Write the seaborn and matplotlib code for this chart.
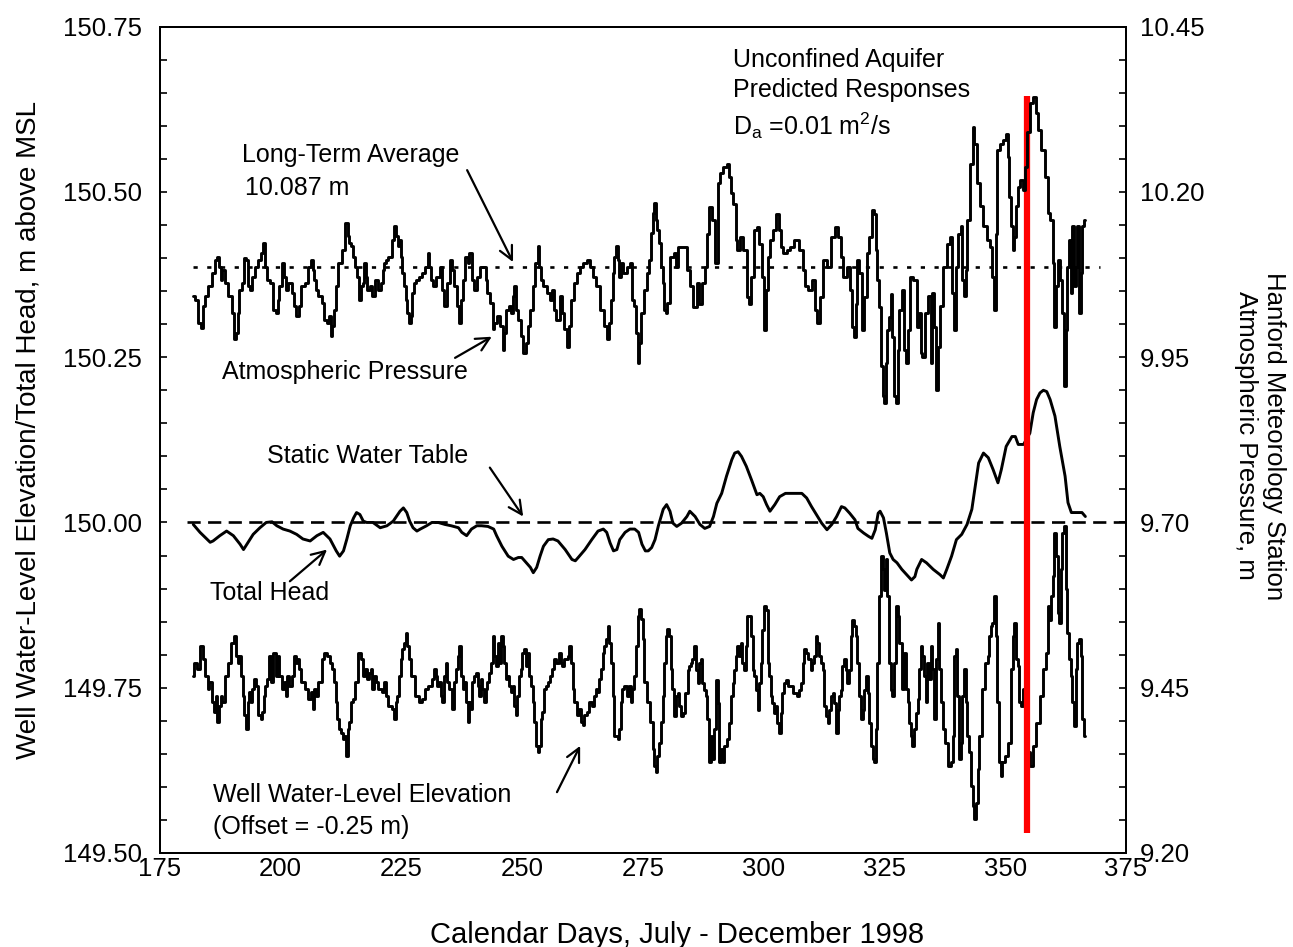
import matplotlib
matplotlib.use("Agg")
import matplotlib.pyplot as plt
from matplotlib.ticker import MultipleLocator, FormatStrFormatter
import pandas as pd
import seaborn as sns

# Hanford atmospheric pressure (right axis, m of water) : (calendar day, value)
ATM_PRESSURE = [
    (181.9, 10.042), (182.6, 10.037), (183.3, 10.002), (183.7, 9.994), (184.0, 10.027), (184.7, 10.042),
    (185.4, 10.057), (186.0, 10.077), (186.7, 10.097), (187.1, 10.102), (187.4, 10.087), (187.8, 10.067),
    (188.1, 10.082), (188.8, 10.062), (189.5, 10.042), (190.2, 10.017), (190.6, 9.977), (190.9, 9.987),
    (191.3, 10.017), (191.6, 10.052), (192.3, 10.062), (192.6, 10.100), (193.0, 10.097), (193.3, 10.057),
    (194.0, 10.052), (194.3, 10.072), (195.0, 10.087), (195.7, 10.097), (196.0, 10.107), (196.7, 10.123),
    (197.0, 10.087), (197.4, 10.067), (198.2, 10.062), (198.8, 10.022), (199.2, 10.017), (199.5, 10.037),
    (199.9, 10.057), (200.6, 10.092), (200.9, 10.072), (201.2, 10.052), (201.9, 10.062), (202.6, 10.047),
    (202.9, 10.027), (203.6, 10.012), (204.0, 10.027), (204.6, 10.057), (205.4, 10.062), (206.1, 10.087),
    (206.4, 10.097), (206.8, 10.082), (207.1, 10.067), (207.5, 10.052), (208.1, 10.042), (208.8, 10.032),
    (209.2, 10.007), (209.8, 10.002), (210.2, 10.012), (210.5, 9.982), (210.9, 9.997), (211.2, 10.022),
    (211.6, 10.057), (212.2, 10.092), (213.0, 10.112), (213.7, 10.153), (214.0, 10.133), (214.4, 10.123),
    (214.7, 10.118), (215.1, 10.102), (215.7, 10.087), (216.1, 10.072), (216.4, 10.037), (216.8, 10.057),
    (217.1, 10.062), (217.4, 10.092), (217.8, 10.072), (218.1, 10.052), (218.8, 10.057), (219.1, 10.042),
    (219.8, 10.067), (220.6, 10.052), (220.9, 10.062), (221.3, 10.082), (221.6, 10.092), (222.0, 10.097),
    (222.6, 10.102), (223.3, 10.128), (223.7, 10.148), (224.0, 10.133), (224.4, 10.118), (224.7, 10.128),
    (225.0, 10.102), (225.4, 10.077), (225.7, 10.057), (226.1, 10.037), (226.4, 10.017), (226.7, 10.002),
    (227.1, 10.012), (227.4, 10.047), (227.8, 10.062), (228.2, 10.067), (228.9, 10.072), (229.6, 10.077),
    (230.2, 10.087), (230.6, 10.107), (230.9, 10.087), (231.3, 10.067), (231.9, 10.057), (232.6, 10.072),
    (233.3, 10.087), (233.6, 10.052), (234.0, 10.027), (234.7, 10.062), (235.3, 10.097), (235.8, 10.082),
    (236.1, 10.057), (236.8, 10.027), (237.2, 10.002), (237.5, 10.037), (237.8, 10.067), (238.5, 10.102),
    (238.9, 10.092), (239.2, 10.107), (239.9, 10.067), (240.2, 10.052), (240.9, 10.072), (241.6, 10.087),
    (242.3, 10.087), (242.6, 10.067), (242.9, 10.047), (243.7, 10.032), (244.1, 9.992), (244.4, 10.002),
    (245.1, 10.012), (245.8, 9.997), (246.1, 9.961), (246.4, 9.987), (247.1, 10.022), (247.5, 10.027),
    (247.8, 10.017), (248.2, 10.042), (248.5, 10.057), (248.8, 10.022), (249.5, 10.007), (249.9, 9.982),
    (250.5, 9.956), (250.9, 9.971), (251.3, 9.997), (252.0, 10.022), (252.3, 10.057), (253.0, 10.092),
    (253.4, 10.118), (253.7, 10.087), (254.0, 10.067), (254.7, 10.057), (255.4, 10.047), (256.1, 10.037),
    (256.4, 10.052), (256.8, 10.022), (257.4, 10.007), (258.1, 10.042), (258.5, 10.017), (258.9, 9.992),
    (259.6, 9.966), (259.9, 9.997), (260.3, 10.037), (261.0, 10.062), (261.6, 10.077), (262.3, 10.087),
    (263.0, 10.092), (263.7, 10.097), (264.4, 10.087), (265.0, 10.072), (265.7, 10.057), (266.5, 10.022),
    (267.2, 9.997), (267.9, 9.977), (268.2, 10.002), (268.5, 10.037), (268.9, 10.077), (269.2, 10.102),
    (269.6, 10.118), (269.9, 10.097), (270.2, 10.072), (270.6, 10.092), (271.3, 10.077), (272.0, 10.087),
    (272.6, 10.092), (273.0, 10.037), (273.3, 10.027), (273.7, 9.987), (274.1, 9.941), (274.4, 9.971),
    (274.8, 10.017), (275.5, 10.052), (276.1, 10.077), (276.5, 10.097), (276.8, 10.138), (277.2, 10.168),
    (277.5, 10.183), (277.8, 10.158), (278.2, 10.143), (278.5, 10.123), (278.9, 10.087), (279.2, 10.062),
    (279.5, 10.022), (279.9, 10.017), (280.2, 10.032), (281.2, 10.102), (281.6, 10.107), (282.0, 10.087),
    (282.7, 10.117), (283.7, 10.117), (284.4, 10.082), (285.1, 10.057), (285.8, 10.026), (286.5, 10.062),
    (286.8, 10.031), (287.5, 10.062), (288.2, 10.087), (288.5, 10.137), (288.8, 10.177), (289.6, 10.157),
    (290.3, 10.092), (290.6, 10.213), (291.3, 10.228), (292.0, 10.238), (292.7, 10.243), (293.0, 10.223),
    (293.4, 10.198), (294.0, 10.182), (294.4, 10.127), (294.7, 10.112), (295.4, 10.132), (296.1, 10.112),
    (296.8, 10.041), (297.2, 10.031), (297.6, 10.072), (298.2, 10.142), (298.9, 10.147), (299.3, 10.122),
    (299.9, 10.072), (300.3, 9.991), (300.6, 10.052), (301.0, 10.102), (301.6, 10.127), (302.3, 10.142),
    (303.0, 10.167), (303.3, 10.142), (303.7, 10.117), (304.4, 10.107), (305.1, 10.112), (305.8, 10.117),
    (306.8, 10.127), (307.9, 10.112), (308.2, 10.082), (308.9, 10.057), (309.6, 10.052), (310.3, 10.067),
    (310.9, 10.021), (311.3, 10.001), (312.0, 10.041), (312.7, 10.097), (313.4, 10.087), (314.4, 10.132),
    (315.1, 10.147), (315.8, 10.132), (316.1, 10.102), (316.8, 10.072), (317.5, 10.087), (318.2, 10.052),
    (318.5, 9.996), (318.9, 9.981), (319.2, 10.031), (319.6, 10.097), (320.0, 10.077), (320.7, 9.991),
    (321.0, 10.041), (321.7, 10.107), (322.0, 10.132), (322.7, 10.172), (323.1, 10.167), (323.4, 10.112),
    (323.7, 10.067), (324.1, 10.026), (324.4, 9.936), (324.8, 9.891), (325.1, 9.881), (325.4, 9.941),
    (325.8, 9.991), (326.1, 10.011), (326.5, 10.046), (326.8, 9.981), (327.1, 9.891), (327.6, 9.881),
    (327.9, 9.961), (328.3, 10.021), (328.9, 10.052), (329.3, 9.961), (329.6, 9.941), (330.0, 9.991),
    (330.6, 10.072), (331.3, 10.067), (332.0, 9.996), (332.3, 10.017), (332.7, 9.956), (333.0, 9.951),
    (333.7, 10.017), (334.4, 10.042), (334.7, 9.941), (335.1, 10.047), (335.5, 9.996), (335.8, 9.901),
    (336.2, 9.966), (336.9, 10.027), (337.5, 10.087), (338.2, 10.122), (338.9, 10.132), (339.2, 10.047),
    (339.6, 9.991), (339.9, 10.087), (340.5, 10.137), (341.0, 10.148), (341.3, 10.067), (341.6, 10.042),
    (342.0, 10.082), (342.3, 10.158), (343.1, 10.243), (343.4, 10.299), (343.8, 10.273), (344.5, 10.213),
    (345.1, 10.178), (345.8, 10.148), (346.5, 10.127), (347.2, 10.117), (347.5, 10.072), (347.9, 10.022),
    (348.2, 10.137), (348.5, 10.263), (349.2, 10.273), (349.9, 10.278), (350.4, 10.288), (350.7, 10.253),
    (351.0, 10.193), (351.4, 10.148), (351.7, 10.112), (352.1, 10.132), (352.4, 10.178), (352.7, 10.208),
    (353.4, 10.218), (353.9, 10.203), (354.3, 10.238), (354.8, 10.290), (355.5, 10.334), (356.1, 10.344),
    (356.5, 10.319), (357.2, 10.293), (357.8, 10.263), (358.6, 10.223), (359.0, 10.168), (359.6, 10.158),
    (360.0, 10.092), (360.3, 9.996), (360.7, 10.057), (361.0, 10.097), (361.7, 10.067), (362.0, 10.017),
    (362.4, 9.906), (362.7, 9.991), (363.0, 10.087), (363.4, 10.127), (363.7, 10.047), (364.1, 10.148),
    (364.4, 10.057), (364.8, 10.087), (365.1, 10.148), (365.4, 10.017), (365.8, 10.077), (366.2, 10.148),
    (366.6, 10.158),
]

# predicted total head (left axis, m above MSL)
TOTAL_HEAD = [
    (181.9, 149.997), (183.3, 149.985), (184.7, 149.975), (185.4, 149.970), (186.0, 149.972), (187.4, 149.980),
    (188.8, 149.987), (190.2, 149.980), (191.6, 149.967), (192.3, 149.959), (193.0, 149.967), (194.3, 149.982),
    (195.7, 149.992), (197.0, 150.000), (198.2, 150.001), (199.2, 149.995), (200.5, 149.990), (201.9, 149.987),
    (203.3, 149.982), (204.6, 149.975), (206.1, 149.972), (207.5, 149.980), (208.8, 149.985), (210.2, 149.975),
    (211.5, 149.957), (212.2, 149.949), (213.0, 149.957), (213.7, 149.975), (214.4, 149.995), (215.1, 150.007),
    (215.7, 150.015), (216.4, 150.012), (217.1, 150.002), (217.8, 150.000), (219.1, 150.000), (220.6, 149.992),
    (222.0, 149.995), (223.3, 150.002), (224.7, 150.017), (225.4, 150.022), (226.1, 150.015), (226.7, 150.002),
    (227.4, 149.992), (228.2, 149.987), (228.9, 149.990), (230.2, 149.995), (231.3, 150.000), (232.6, 150.000),
    (234.0, 149.997), (235.3, 149.995), (236.8, 149.992), (237.5, 149.985), (238.5, 149.980), (239.5, 149.990),
    (240.6, 149.995), (241.6, 149.995), (242.9, 149.994), (244.1, 149.990), (244.7, 149.980), (245.8, 149.964),
    (247.1, 149.949), (248.2, 149.944), (249.2, 149.947), (249.9, 149.947), (250.5, 149.942), (251.7, 149.932),
    (252.3, 149.924), (253.0, 149.932), (253.7, 149.949), (254.4, 149.964), (255.4, 149.974), (256.4, 149.975),
    (257.4, 149.972), (258.9, 149.959), (260.3, 149.944), (261.0, 149.942), (261.6, 149.947), (263.0, 149.959),
    (264.4, 149.974), (265.7, 149.987), (266.8, 149.990), (267.5, 149.985), (268.2, 149.969), (268.9, 149.957),
    (269.6, 149.959), (270.2, 149.974), (271.3, 149.985), (272.3, 149.990), (273.3, 149.990), (274.1, 149.985),
    (274.8, 149.967), (275.5, 149.957), (276.1, 149.957), (276.8, 149.962), (277.5, 149.974), (278.2, 149.995),
    (279.2, 150.020), (279.9, 150.027), (280.6, 150.017), (281.2, 149.999), (282.0, 149.994), (283.0, 149.999),
    (284.1, 150.009), (284.7, 150.017), (285.8, 150.009), (286.8, 149.997), (287.8, 149.991), (288.8, 149.994),
    (289.6, 150.009), (290.3, 150.029), (291.3, 150.044), (292.3, 150.070), (293.4, 150.095), (294.0, 150.105),
    (294.7, 150.107), (295.4, 150.100), (296.4, 150.085), (297.5, 150.064), (298.6, 150.042), (299.2, 150.044),
    (299.9, 150.039), (300.6, 150.027), (301.3, 150.017), (302.3, 150.027), (303.3, 150.039), (304.5, 150.044),
    (305.5, 150.044), (306.8, 150.044), (307.9, 150.044), (308.9, 150.037), (309.9, 150.024), (310.9, 150.012),
    (312.0, 149.999), (313.1, 149.989), (314.1, 149.997), (315.1, 150.009), (316.1, 150.024), (316.8, 150.022),
    (317.8, 150.014), (318.9, 150.004), (319.5, 149.991), (320.7, 149.984), (321.7, 149.979), (322.4, 149.976),
    (323.1, 149.989), (323.7, 150.014), (324.1, 150.017), (324.8, 150.007), (325.4, 149.984), (326.1, 149.954),
    (326.8, 149.944), (327.6, 149.939), (328.6, 149.929), (329.6, 149.921), (330.6, 149.913), (331.3, 149.918),
    (331.7, 149.929), (332.7, 149.944), (333.7, 149.939), (335.1, 149.929), (336.5, 149.921), (337.2, 149.916),
    (337.9, 149.929), (338.9, 149.949), (339.9, 149.974), (341.0, 149.982), (342.1, 149.997), (343.1, 150.020),
    (343.8, 150.055), (344.5, 150.090), (345.5, 150.105), (346.5, 150.098), (347.5, 150.080), (348.5, 150.060),
    (349.2, 150.080), (350.2, 150.115), (351.4, 150.130), (352.1, 150.130), (352.7, 150.118), (353.8, 150.118),
    (355.1, 150.135), (355.8, 150.166), (356.5, 150.186), (357.2, 150.196), (357.9, 150.200), (358.6, 150.198),
    (359.3, 150.186), (360.3, 150.161), (361.3, 150.115), (362.4, 150.070), (363.0, 150.030), (363.7, 150.015),
    (364.9, 150.015), (365.9, 150.015), (366.6, 150.009),
]

# well water-level elevation, already offset by -0.25 m (left axis)
WELL_LEVEL = [
    (181.9, 149.768), (182.3, 149.788), (183.0, 149.778), (183.7, 149.813), (184.0, 149.793), (184.7, 149.768),
    (185.0, 149.748), (185.4, 149.758), (186.0, 149.728), (186.4, 149.713), (186.7, 149.738), (187.1, 149.698),
    (187.4, 149.723), (187.7, 149.738), (188.1, 149.728), (188.8, 149.768), (189.4, 149.788), (190.2, 149.818),
    (190.6, 149.828), (190.9, 149.798), (191.3, 149.788), (191.6, 149.798), (191.9, 149.768), (192.3, 149.738),
    (192.6, 149.708), (193.0, 149.687), (193.3, 149.728), (193.6, 149.743), (194.0, 149.728), (194.3, 149.748),
    (194.7, 149.763), (195.0, 149.753), (195.7, 149.708), (196.0, 149.703), (196.4, 149.713), (196.7, 149.738),
    (197.0, 149.753), (197.4, 149.763), (197.8, 149.798), (198.2, 149.758), (198.8, 149.803), (199.2, 149.768),
    (199.5, 149.798), (199.9, 149.768), (200.5, 149.748), (200.9, 149.758), (201.2, 149.738), (201.6, 149.768),
    (201.9, 149.753), (202.6, 149.768), (202.9, 149.798), (203.3, 149.788), (203.6, 149.793), (203.9, 149.778),
    (204.6, 149.758), (205.4, 149.748), (206.1, 149.733), (206.4, 149.743), (206.8, 149.718), (207.1, 149.748),
    (207.5, 149.738), (208.1, 149.758), (208.8, 149.793), (209.2, 149.803), (209.8, 149.798), (210.5, 149.788),
    (210.9, 149.778), (211.2, 149.758), (211.5, 149.728), (211.9, 149.703), (212.2, 149.687), (212.6, 149.682),
    (213.0, 149.672), (213.4, 149.677), (213.7, 149.647), (214.0, 149.687), (214.4, 149.698), (214.7, 149.728),
    (215.1, 149.733), (215.7, 149.758), (216.4, 149.803), (216.8, 149.793), (217.1, 149.768), (217.8, 149.778),
    (218.1, 149.763), (218.5, 149.773), (218.8, 149.778), (219.1, 149.748), (219.5, 149.768), (219.8, 149.758),
    (220.6, 149.748), (221.3, 149.743), (221.6, 149.758), (222.0, 149.738), (222.6, 149.723), (223.3, 149.718),
    (223.7, 149.703), (224.0, 149.728), (224.3, 149.738), (224.7, 149.768), (225.0, 149.793), (225.4, 149.808),
    (225.7, 149.818), (226.1, 149.833), (226.4, 149.813), (226.7, 149.793), (227.4, 149.768), (228.2, 149.738),
    (228.9, 149.728), (229.6, 149.733), (230.2, 149.748), (230.9, 149.753), (231.6, 149.763), (231.9, 149.778),
    (232.3, 149.768), (232.6, 149.753), (233.0, 149.758), (233.3, 149.738), (233.6, 149.728), (234.0, 149.768),
    (234.3, 149.788), (234.7, 149.758), (235.0, 149.748), (235.8, 149.718), (236.1, 149.758), (236.5, 149.778),
    (236.8, 149.798), (237.2, 149.813), (237.5, 149.768), (237.8, 149.748), (238.2, 149.758), (238.5, 149.728),
    (238.9, 149.698), (239.2, 149.728), (239.5, 149.718), (239.9, 149.758), (240.2, 149.768), (240.6, 149.773),
    (240.9, 149.753), (241.2, 149.738), (241.6, 149.763), (241.9, 149.748), (242.3, 149.728), (242.6, 149.748),
    (242.9, 149.758), (243.3, 149.773), (243.7, 149.788), (244.1, 149.828), (244.4, 149.798), (244.7, 149.783),
    (245.1, 149.818), (245.4, 149.788), (245.8, 149.828), (246.1, 149.813), (246.4, 149.788), (246.8, 149.763),
    (247.1, 149.768), (247.5, 149.753), (247.8, 149.743), (248.2, 149.753), (248.5, 149.723), (248.8, 149.708),
    (249.2, 149.738), (249.5, 149.768), (249.9, 149.778), (250.2, 149.803), (250.5, 149.808), (250.9, 149.783),
    (251.3, 149.803), (251.7, 149.768), (252.0, 149.753), (252.3, 149.728), (252.7, 149.698), (253.0, 149.662),
    (253.4, 149.652), (253.7, 149.662), (254.0, 149.703), (254.4, 149.713), (254.7, 149.748), (255.1, 149.753),
    (255.4, 149.758), (256.1, 149.768), (256.4, 149.778), (256.8, 149.793), (257.4, 149.788), (257.8, 149.803),
    (258.1, 149.788), (258.5, 149.783), (258.9, 149.793), (259.3, 149.793), (259.6, 149.798), (259.9, 149.813),
    (260.3, 149.788), (260.6, 149.748), (261.0, 149.728), (261.3, 149.728), (261.6, 149.708), (262.0, 149.718),
    (262.3, 149.698), (262.7, 149.693), (263.0, 149.708), (263.7, 149.713), (264.0, 149.728), (264.7, 149.723),
    (265.0, 149.738), (265.4, 149.748), (265.7, 149.743), (266.1, 149.763), (266.5, 149.778), (266.8, 149.803),
    (267.2, 149.813), (267.5, 149.823), (267.9, 149.844), (268.2, 149.818), (268.5, 149.788), (268.9, 149.738),
    (269.2, 149.677), (269.6, 149.677), (269.9, 149.672), (270.2, 149.687), (270.6, 149.728), (270.9, 149.748),
    (271.3, 149.753), (272.0, 149.738), (272.3, 149.753), (272.6, 149.728), (273.0, 149.748), (273.3, 149.768),
    (273.7, 149.813), (274.1, 149.859), (274.4, 149.869), (274.8, 149.854), (275.1, 149.823), (275.5, 149.758),
    (276.1, 149.728), (276.8, 149.698), (277.2, 149.657), (277.5, 149.632), (277.8, 149.622), (278.2, 149.647),
    (278.5, 149.667), (278.9, 149.698), (279.2, 149.738), (279.5, 149.788), (279.9, 149.828), (280.2, 149.839),
    (280.6, 149.828), (280.9, 149.778), (281.2, 149.748), (281.6, 149.707), (282.0, 149.737), (282.4, 149.742),
    (282.7, 149.722), (283.0, 149.707), (283.4, 149.712), (284.1, 149.742), (284.4, 149.777), (284.7, 149.783),
    (285.1, 149.788), (285.4, 149.793), (285.8, 149.813), (286.1, 149.777), (286.5, 149.757), (286.8, 149.788),
    (287.1, 149.793), (287.5, 149.757), (287.8, 149.747), (288.2, 149.737), (288.5, 149.702), (288.8, 149.637),
    (289.2, 149.677), (289.6, 149.642), (290.0, 149.687), (290.3, 149.762), (290.6, 149.727), (291.0, 149.637),
    (291.3, 149.657), (291.7, 149.637), (292.0, 149.662), (292.3, 149.662), (292.7, 149.672), (293.0, 149.697),
    (293.4, 149.737), (293.7, 149.757), (294.0, 149.777), (294.4, 149.798), (294.7, 149.813), (295.1, 149.798),
    (295.4, 149.818), (295.7, 149.788), (296.1, 149.777), (296.4, 149.813), (296.8, 149.858), (297.2, 149.858),
    (297.5, 149.828), (297.9, 149.777), (298.2, 149.767), (298.6, 149.747), (298.9, 149.717), (299.2, 149.757),
    (299.6, 149.788), (299.9, 149.838), (300.3, 149.873), (300.6, 149.868), (301.0, 149.788), (301.3, 149.767),
    (301.6, 149.737), (302.0, 149.727), (302.3, 149.712), (302.7, 149.722), (303.0, 149.697), (303.3, 149.682),
    (303.7, 149.712), (304.0, 149.742), (304.4, 149.757), (304.8, 149.762), (305.1, 149.752), (305.8, 149.752),
    (306.5, 149.742), (307.2, 149.737), (307.5, 149.747), (307.9, 149.757), (308.2, 149.788), (308.6, 149.808),
    (308.9, 149.803), (309.6, 149.793), (309.9, 149.777), (310.3, 149.788), (310.6, 149.798), (310.9, 149.828),
    (311.3, 149.818), (311.6, 149.798), (312.0, 149.788), (312.4, 149.777), (312.7, 149.722), (313.1, 149.707),
    (313.4, 149.697), (313.8, 149.717), (314.1, 149.737), (314.4, 149.742), (314.8, 149.727), (315.1, 149.682),
    (315.5, 149.717), (315.8, 149.737), (316.1, 149.747), (316.5, 149.783), (316.8, 149.793), (317.2, 149.777),
    (317.5, 149.757), (317.8, 149.777), (318.2, 149.828), (318.5, 149.853), (318.9, 149.843), (319.2, 149.828),
    (319.5, 149.788), (319.9, 149.737), (320.3, 149.702), (320.7, 149.717), (321.0, 149.747), (321.4, 149.767),
    (321.7, 149.742), (322.0, 149.697), (322.4, 149.662), (322.7, 149.642), (323.1, 149.637), (323.4, 149.687),
    (323.7, 149.788), (324.1, 149.888), (324.4, 149.949), (324.8, 149.929), (325.1, 149.898), (325.4, 149.944),
    (325.8, 149.888), (326.1, 149.788), (326.5, 149.747), (326.8, 149.737), (327.1, 149.788), (327.6, 149.873),
    (327.9, 149.858), (328.3, 149.818), (328.9, 149.748), (329.3, 149.803), (329.6, 149.748), (330.0, 149.728),
    (330.3, 149.697), (330.6, 149.677), (331.0, 149.662), (331.3, 149.687), (331.7, 149.712), (332.0, 149.733),
    (332.3, 149.778), (332.7, 149.813), (333.0, 149.798), (333.4, 149.768), (333.7, 149.728), (334.0, 149.788),
    (334.4, 149.763), (334.7, 149.813), (335.1, 149.778), (335.5, 149.702), (335.8, 149.793), (336.2, 149.848),
    (336.5, 149.778), (336.9, 149.728), (337.2, 149.687), (337.9, 149.667), (338.6, 149.632), (338.9, 149.637),
    (339.3, 149.677), (339.6, 149.798), (339.9, 149.808), (340.3, 149.738), (340.6, 149.642), (341.0, 149.667),
    (341.3, 149.738), (341.6, 149.778), (342.0, 149.728), (342.3, 149.677), (342.7, 149.652), (343.1, 149.602),
    (343.4, 149.571), (343.8, 149.551), (344.1, 149.576), (344.5, 149.627), (344.8, 149.677), (345.5, 149.748),
    (346.2, 149.788), (346.5, 149.798), (346.8, 149.828), (347.2, 149.843), (347.5, 149.848), (347.9, 149.889),
    (348.2, 149.828), (348.5, 149.728), (348.9, 149.637), (349.2, 149.617), (349.6, 149.637), (350.2, 149.647),
    (351.0, 149.667), (351.4, 149.778), (351.7, 149.828), (352.1, 149.848), (352.4, 149.793), (352.7, 149.783),
    (353.1, 149.728), (353.4, 149.722), (353.8, 149.748), (354.8, 149.652), (355.5, 149.632), (356.1, 149.662),
    (356.8, 149.697), (357.5, 149.738), (358.3, 149.778), (358.6, 149.803), (359.0, 149.873), (359.3, 149.853),
    (359.6, 149.889), (360.0, 149.919), (360.3, 149.984), (360.7, 149.949), (361.0, 149.863), (361.3, 149.848),
    (361.7, 149.929), (362.0, 149.984), (362.4, 149.994), (362.7, 149.899), (363.0, 149.833), (363.4, 149.793),
    (363.7, 149.768), (364.1, 149.728), (364.4, 149.692), (364.8, 149.778), (365.1, 149.818), (365.4, 149.823),
    (365.8, 149.798), (366.2, 149.702), (366.6, 149.677),
]

LONG_TERM_AVG = 10.087          # right axis
STATIC_TABLE = 150.00           # left axis
AVG_SPAN = (181.8, 369.6)
STATIC_SPAN = (180.6, 375.0)
MARKER_DAY = 354.6
MARKER_RANGE = (149.53, 150.645)

LEFT_TICKS = [149.50, 149.75, 150.00, 150.25, 150.50, 150.75]
RIGHT_TICKS = [9.20, 9.45, 9.70, 9.95, 10.20, 10.45]
X_TICKS = [175, 200, 225, 250, 275, 300, 325, 350, 375]

FONT = ["Liberation Sans", "DejaVu Sans"]


def to_frame(pairs):
    return pd.DataFrame(pairs, columns=["day", "value"])


sns.set_theme(style="white")
plt.rcParams["font.family"] = FONT
plt.rcParams["text.color"] = "black"
plt.rcParams["mathtext.fontset"] = "custom"
plt.rcParams["mathtext.rm"] = "Liberation Sans"

fig = plt.figure(figsize=(12.93, 9.47), dpi=100)
ax = fig.add_axes([0.1237, 0.0993, 0.7471, 0.8725])
ax2 = ax.twinx()

line_kw = dict(color="black", lw=2.1, estimator=None, sort=False, legend=False)
# the hourly records read as a fine staircase, the model head as a smooth trace
sns.lineplot(data=to_frame(WELL_LEVEL), x="day", y="value", ax=ax,
             drawstyle="steps-mid", **line_kw)
sns.lineplot(data=to_frame(TOTAL_HEAD), x="day", y="value", ax=ax, **line_kw)
sns.lineplot(data=to_frame(ATM_PRESSURE), x="day", y="value", ax=ax2,
             drawstyle="steps-mid", **line_kw)

ax.hlines(STATIC_TABLE, *STATIC_SPAN, colors="black", lw=1.9, linestyles=(0, (5, 2.8)))
ax2.hlines(LONG_TERM_AVG, *AVG_SPAN, colors="black", lw=1.9, linestyles=(0, (1.6, 3.6)))
ax.vlines(MARKER_DAY, *MARKER_RANGE, colors="#ff0000", lw=4.5, zorder=5)

ax.set_xlim(175, 375)
ax.set_ylim(149.50, 150.75)
ax2.set_ylim(9.20, 10.45)

ax.set_xticks(X_TICKS)
ax.xaxis.set_minor_locator(MultipleLocator(5))
ax.set_yticks(LEFT_TICKS)
ax.yaxis.set_minor_locator(MultipleLocator(0.05))
ax.yaxis.set_major_formatter(FormatStrFormatter("%.2f"))
ax2.set_yticks(RIGHT_TICKS)
ax2.yaxis.set_minor_locator(MultipleLocator(0.05))
ax2.yaxis.set_major_formatter(FormatStrFormatter("%.2f"))

for a in (ax, ax2):
    a.set_xlabel("")
    a.set_ylabel("")
    for sp in a.spines.values():
        sp.set_linewidth(1.4)
        sp.set_color("black")
ax.tick_params(axis="both", which="both", direction="in", length=5, width=1.2,
               labelsize=18.5, colors="black")
ax.tick_params(axis="x", pad=3)
ax.tick_params(axis="y", pad=13)
ax2.tick_params(axis="y", which="both", direction="in", length=5, width=1.2,
                labelsize=18.5, pad=10, colors="black")

# annotations
txt = dict(fontsize=18, color="black", ha="left", va="center")
ax.text(192.0, 150.556, "Long-Term Average", **txt)
ax.text(192.6, 150.506, "10.087 m", **txt)
ax.text(187.8, 150.228, "Atmospheric Pressure", **txt)
ax.text(197.2, 150.100, "Static Water Table", **txt)
ax.text(185.4, 149.894, "Total Head", **txt)
ax.text(186.0, 149.588, "Well Water-Level Elevation", **txt)
ax.text(186.0, 149.539, "(Offset = -0.25 m)", **txt)
ax.text(293.6, 150.699, "Unconfined Aquifer", **txt)
ax.text(293.6, 150.654, "Predicted Responses", **txt)
ax.text(293.6, 150.600, r"D$_\mathregular{a}$ =0.01 m$^\mathregular{2}$/s", **txt)

arrow = dict(arrowstyle="->,head_length=0.8,head_width=0.4", lw=1.6, color="black",
             shrinkA=0, shrinkB=0)
ARROWS = [
    ((238.6, 150.533), (248.1, 150.394)),
    ((236.1, 150.249), (243.7, 150.281)),
    ((243.3, 150.083), (250.2, 150.009)),
    ((201.9, 149.911), (209.6, 149.959)),
    ((257.2, 149.592), (262.0, 149.662)),
]
for tail, head in ARROWS:
    ax.annotate("", xy=head, xytext=tail, arrowprops=arrow)

fig.text(0.0217, 0.546, "Well Water-Level Elevation/Total Head, m above MSL",
         rotation=90, ha="center", va="center", fontsize=20, color="black")
fig.text(0.9745, 0.54, "Hanford Meteorology Station\nAtmospheric Pressure, m",
         rotation=270, ha="center", va="center", multialignment="center",
         fontsize=18.5, linespacing=1.2, color="black")
fig.text(0.5236, 0.0127, "Calendar Days, July - December 1998",
         ha="center", va="center", fontsize=21, color="black")

fig.savefig("out.png", dpi=100)
